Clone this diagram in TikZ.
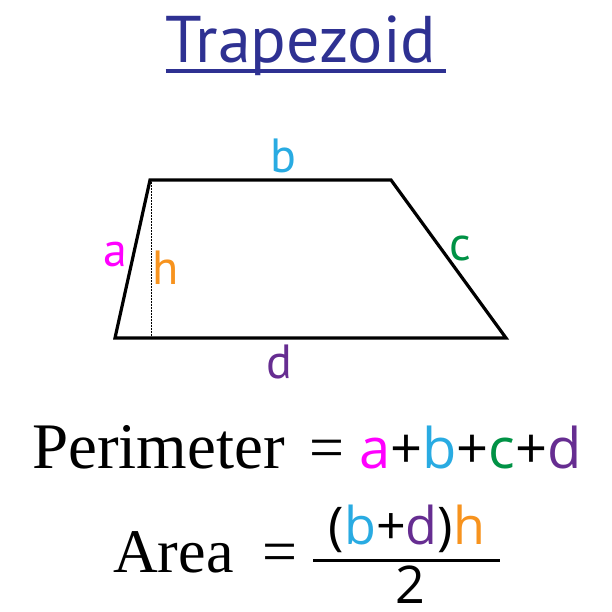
\documentclass[tikz,border=0pt]{standalone}
\usepackage{fontspec}
\setmainfont{Liberation Serif}
\newfontfamily\labelfont{PT Sans}
\newfontfamily\termfont{Open Sans}
\usetikzlibrary{positioning, calc}
\definecolor{titleBlue}{HTML}{2E3192}
\definecolor{sideA}{HTML}{FF00FF}
\definecolor{sideB}{HTML}{29ABE2}
\definecolor{sideC}{HTML}{009245}
\definecolor{sideD}{HTML}{662D91}
\definecolor{heightH}{HTML}{F7931E}
\tikzstyle{titleText}=[inner sep=0pt, anchor=base, text=titleBlue, font=\labelfont\fontsize{66}{66}\selectfont]
\tikzstyle{sideLabel}=[inner sep=0pt, anchor=base, font=\labelfont\fontsize{48}{48}\selectfont]
\tikzstyle{formula}=[inner sep=0pt, anchor=base, font=\fontsize{62}{62}\selectfont]
\tikzstyle{sumText}=[inner sep=0pt, anchor=base west, font=\termfont\fontsize{56}{56}\selectfont]
\tikzstyle{fracText}=[inner sep=0pt, anchor=base, font=\termfont\fontsize{52}{52}\selectfont]
\tikzstyle{edge}=[line width=3.2pt, line join=miter]
\tikzstyle{heightLine}=[line width=1.3pt, dash pattern=on 0.8pt off 0.7pt]

\begin{document}
\begin{tikzpicture}[x=1pt, y=-1pt]
        \useasboundingbox (0,0) rectangle (612,612);

        % title
        \node[titleText] (title) at (301, 63) {Trapezoid};
        \draw[titleBlue, line width=3.5pt] ($(title.base west)+(0,8)$) -- ($(title.base east)+(10,8)$);

        % trapezoid
        \coordinate (tl) at (150, 180);
        \coordinate (tr) at (391, 180);
        \coordinate (br) at (506, 338);
        \coordinate (bl) at (115, 338);
        \draw[edge] (tl) -- (tr) -- (br) -- (bl) -- cycle;
        \draw[heightLine] ($(tl)+(1.5,2)$) -- ($(tl |- bl)+(1.5,0)$);

        \node[sideLabel, text=sideB] (lb) at (283, 173) {b};
        \node[sideLabel, text=sideA] (la) at (115, 266) {a};
        \node[sideLabel, text=heightH] (lh) at (166, 284) {h};
        \node[sideLabel, text=sideC] (lc) at (460, 260) {c};
        \node[sideLabel, text=sideD] (ld) at (279, 378) {d};

        % perimeter
        \node[formula, anchor=base west, font=\fontsize{65}{65}\selectfont] (perim) at (32, 468) {Perimeter};
        \node[formula] (peq) at (327, 468) {=};
        \node[sumText] (psum) at (359, 468) {\textcolor{sideA}{a}+\textcolor{sideB}{b}+\textcolor{sideC}{c}+\textcolor{sideD}{d}};

        % area
        \node[formula, anchor=base west] (area) at (113, 572) {Area};
        \node[formula] (aeq) at (280, 572) {=};
        \node[fracText] (numer) at (407, 544) {(\textcolor{sideB}{b}+\textcolor{sideD}{d})\textcolor{heightH}{h}};
        \node[fracText] (denom) at (410, 603) {2};
        \coordinate (barL) at (313, 560);
        \coordinate (barR) at (500, 560);
        \draw[line width=3pt] (barL) -- (barR);
\end{tikzpicture}
\end{document}
